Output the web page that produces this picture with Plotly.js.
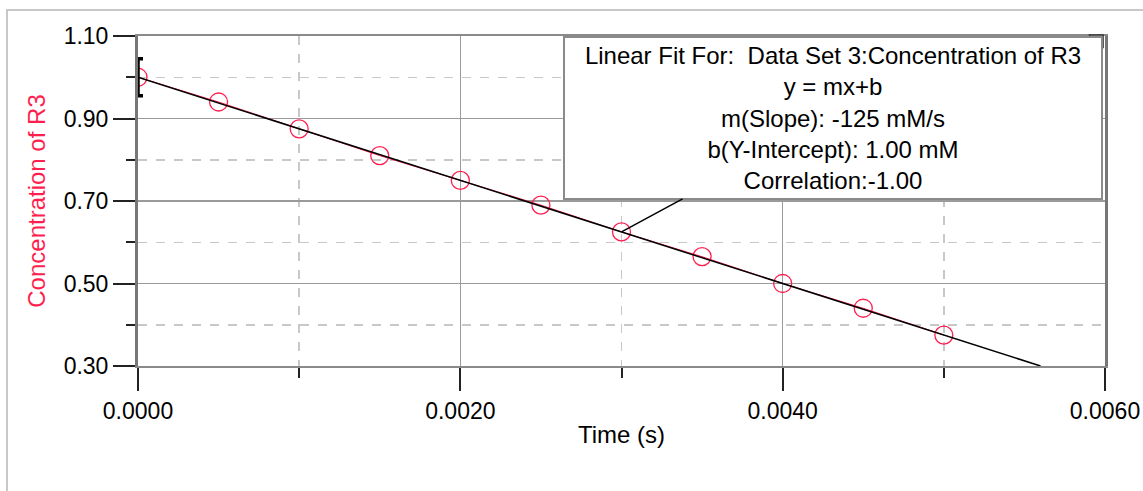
<!DOCTYPE html>
<html>
<head>
<meta charset="utf-8">
<script src="https://cdn.plot.ly/plotly-3.0.1.min.js"></script>
<style>html,body{margin:0;padding:0;background:#fff;}#chart{width:1143px;height:491px;}</style>
</head>
<body>
<div id="chart"></div>
<script>
// Data
var timeS = [0.0000, 0.0005, 0.0010, 0.0015, 0.0020, 0.0025, 0.0030, 0.0035, 0.0040, 0.0045, 0.0050];
var concR3 = [1.00, 0.94, 0.875, 0.81, 0.75, 0.69, 0.625, 0.565, 0.50, 0.44, 0.375];
var fitX = [0.0000, 0.0056];
var fitY = [1.00, 0.30];
var errTime = [0.0000];
var errConc = [1.00];
var errSize = [0.045];
var fitLines = [
  "Linear Fit For:\u00a0\u00a0Data Set 3:Concentration of R3",
  "y = mx+b",
  "m(Slope): -125 mM/s",
  "b(Y-Intercept): 1.00 mM",
  "Correlation:-1.00"
];
var xTitle = "Time (s)";
var yTitle = "Concentration of R3";

var FONT = "Liberation Sans, Arial, sans-serif";
var RED = "#ff1f4f";

var traces = [
  {
    x: timeS, y: concR3, type: "scatter", mode: "lines+markers",
    line: {color: RED, width: 1},
    marker: {symbol: "circle-open", size: 18, color: RED, line: {width: 1.3, color: RED}},
    hoverinfo: "x+y"
  },
  {
    x: fitX, y: fitY, type: "scatter", mode: "lines",
    line: {color: "#000000", width: 1.5}
  },
  {
    x: errTime, y: errConc, type: "scatter", mode: "markers",
    marker: {size: 1, color: "rgba(0,0,0,0)"},
    cliponaxis: false,
    error_y: {type: "data", array: errSize, visible: true, color: "#000000", thickness: 3.5, width: 5}
  }
];

var layout = {
  width: 1143, height: 491,
  margin: {l: 138, r: 38, t: 36, b: 125},
  paper_bgcolor: "#ffffff", plot_bgcolor: "#ffffff",
  showlegend: false,
  font: {family: FONT, size: 23, color: "#000000"},
  xaxis: {
    range: [0, 0.006], dtick: 0.002, tick0: 0, tickformat: ".4f",
    showgrid: true, gridcolor: "#9a9a9a", gridwidth: 1.5,
    showline: true, linecolor: "#8a8a8a", linewidth: 2, mirror: true,
    ticks: "outside", ticklen: 23, tickwidth: 2, tickcolor: "#222222",
    tickfont: {family: FONT, size: 23, color: "#000000"},
    zeroline: false,
    minor: {dtick: 0.001, tick0: 0, ticks: "outside", ticklen: 10, tickwidth: 2, tickcolor: "#222222",
            showgrid: true, gridcolor: "#c8c8c8", gridwidth: 1.5, griddash: "dash"},
    title: {text: xTitle, font: {family: FONT, size: 24, color: "#000000"}, standoff: 4}
  },
  yaxis: {
    range: [0.30, 1.10], dtick: 0.2, tick0: 0.3, tickformat: ".2f",
    showgrid: true, gridcolor: "#9a9a9a", gridwidth: 1.5,
    showline: true, linecolor: "#777777", linewidth: 3, mirror: true,
    ticks: "outside", ticklen: 22, tickwidth: 2, tickcolor: "#222222",
    tickfont: {family: FONT, size: 23, color: "#000000"},
    zeroline: false,
    minor: {dtick: 0.1, tick0: 0.3, ticks: "outside", ticklen: 9, tickwidth: 2, tickcolor: "#222222",
            showgrid: true, gridcolor: "#c8c8c8", gridwidth: 1.5, griddash: "dash"},
    title: {text: yTitle, font: {family: FONT, size: 24, color: RED}, standoff: 12}
  },
  annotations: [
    {
      x: timeS[6], y: concR3[6], xref: "x", yref: "y",
      axref: "pixel", ayref: "pixel", ax: 211, ay: -114,
      showarrow: true, arrowhead: 0, arrowwidth: 1.5, arrowcolor: "#000000", standoff: 0,
      text: fitLines.join("<br>"),
      font: {family: FONT, size: 24, color: "#000000"},
      align: "center", width: 532, height: 156,
      bgcolor: "#ffffff", bordercolor: "#8a8a8a", borderwidth: 2, borderpad: 2
    }
  ],
  shapes: [
    {type: "rect", xref: "paper", yref: "paper", x0: -0.1355, x1: 1.06, y0: -0.42, y1: 1.0788,
     line: {color: "#c8c8c8", width: 2}, fillcolor: "rgba(0,0,0,0)", layer: "below"},
    {type: "rect", xref: "paper", yref: "paper", x0: 0.984, x1: 0.998, y0: 0.965, y1: 1.003,
     line: {color: "#333333", width: 1.5}, fillcolor: "#d4d4d4", layer: "above"}
  ]
};

Plotly.newPlot("chart", traces, layout, {staticPlot: true, displayModeBar: false});
</script>
</body>
</html>
